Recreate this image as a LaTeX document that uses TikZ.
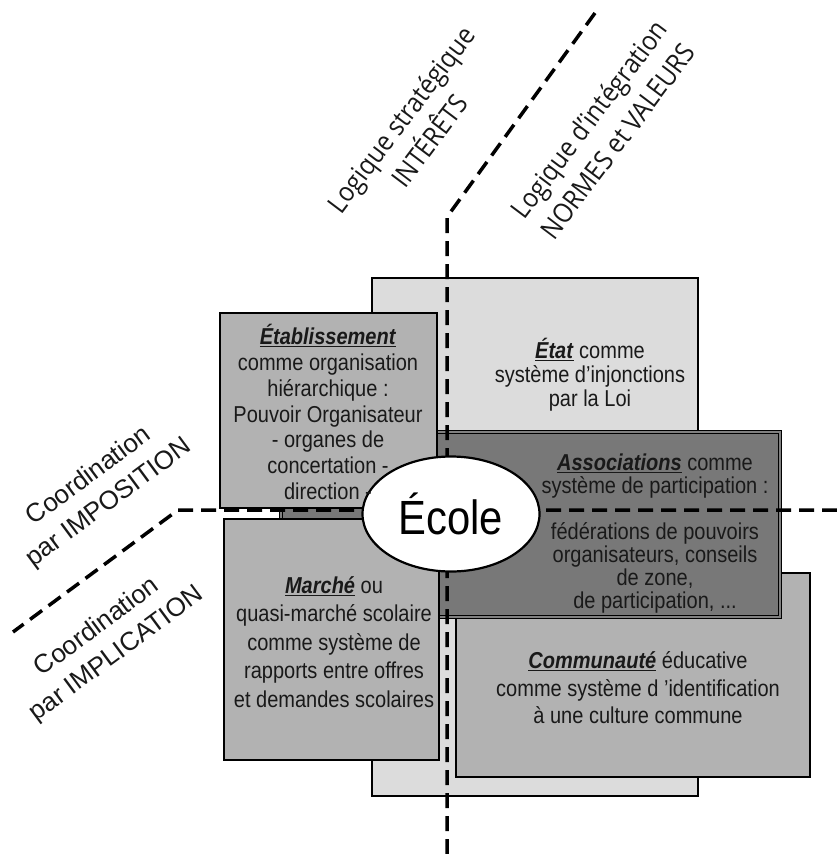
\documentclass[tikz,border=0pt]{standalone}
\usepackage{fontspec}
\setmainfont{Liberation Sans}[FakeStretch=0.87]
\newfontfamily\coordfont{Liberation Sans}
\newfontfamily\logiquefont{Open Sans}[FakeStretch=0.9]
\usetikzlibrary{shapes.geometric}
\definecolor{grisclair}{HTML}{DCDCDC}
\definecolor{grismoyen}{HTML}{B2B2B2}
\definecolor{grisfonce}{HTML}{787878}
\newcommand{\motcle}[1]{\underline{\textbf{\textit{#1}}}}

\begin{document}
\begin{tikzpicture}[x=1pt, y=-1pt,
  boite/.style={draw=black, line width=1.6pt, rectangle, inner sep=0pt},
  texte/.style={align=center, text=black!90, inner sep=0pt},
  axe/.style={line width=3.5pt, dash pattern=on 15pt off 8pt},
  logique/.style={texte, rotate=53, font=\logiquefont\fontsize{27}{36}\selectfont},
  coordination/.style={texte, rotate=36.5, font=\coordfont\fontsize{26}{33}\selectfont}]
\useasboundingbox (0,0) rectangle (837,854);

\node[boite, fill=grisclair, minimum width=326pt, minimum height=518pt] (etat) at (535,537) {};
\node[boite, fill=grismoyen, minimum width=354pt, minimum height=204pt] (communaute) at (633,675) {};
\node[boite, fill=grisfonce, line width=0.9pt, double=gray, double distance=1.4pt, minimum width=499pt, minimum height=185pt] (associations) at (530.5,524.5) {};
\node[boite, fill=grismoyen, minimum width=217pt, minimum height=195pt] (etablissement) at (328.5,410.5) {};
\node[boite, fill=grismoyen, minimum width=215pt, minimum height=241pt] (marche) at (331.5,639.5) {};

\coordinate (v-haut) at (595,13);
\coordinate (v-coude) at (447,217);
\coordinate (v-bas) at (447,854);
\coordinate (h-droite) at (837,510);
\coordinate (h-coude) at (178,510);
\coordinate (h-gauche) at (13,632);
\draw[axe] (v-bas) -- (v-coude) -- (v-haut);
\draw[axe] (h-droite) -- (h-coude) -- (h-gauche);

\node[ellipse, draw, line width=2.2pt, fill=white, minimum width=177pt, minimum height=115pt, inner sep=0pt, font=\fontsize{48}{48}\selectfont] (ecole) at (451,514) {École};

\node[texte, font=\fontsize{23}{25.8}\selectfont] (etablissement-t) at (328,412) {\motcle{Établissement}\\comme organisation\\hiérarchique :\\Pouvoir Organisateur\\- organes de\\concertation -\\direction -};
\node[texte, font=\fontsize{23}{24}\selectfont] (etat-t) at (590,375) {\motcle{État} comme\\système d’injonctions\\par la Loi};
\node[texte, font=\fontsize{23}{23}\selectfont] (associations-t) at (655,534) {\motcle{Associations} comme\\système de participation :\\[23pt]fédérations de pouvoirs\\organisateurs, conseils\\de zone,\\de participation, ...};
\node[texte, font=\fontsize{23}{28.5}\selectfont] (marche-t) at (334,642) {\motcle{Marché} ou\\quasi-marché scolaire\\comme système de\\rapports entre offres\\et demandes scolaires};
\node[texte, font=\fontsize{23}{27.5}\selectfont] (communaute-t) at (638,688) {\motcle{Communauté} éducative\\comme système d ’identification\\à une culture commune};

\node[logique] (strategique) at (415,130) {Logique stratégique\\INTÉRÊTS};
\node[logique] (integration) at (603,130) {Logique d’intégration\\NORMES et VALEURS};
\node[coordination] (imposition) at (99,490) {Coordination\\par IMPOSITION};
\node[coordination] (implication) at (107,641) {Coordination\\par IMPLICATION};
\end{tikzpicture}
\end{document}
